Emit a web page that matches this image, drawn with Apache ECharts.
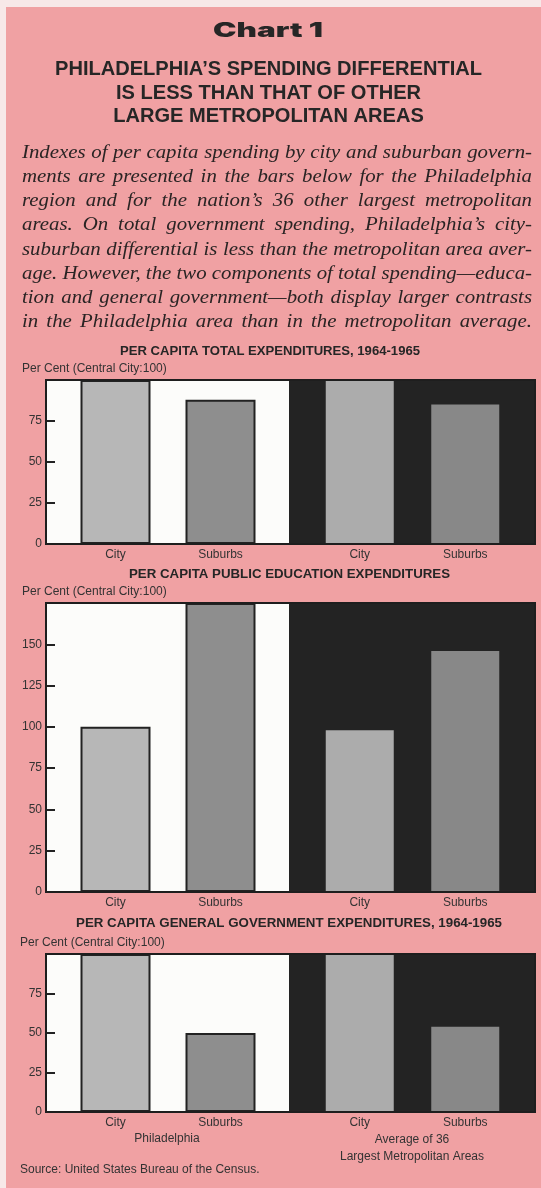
<!DOCTYPE html>
<html>
<head>
<meta charset="utf-8">
<script src="https://cdn.jsdelivr.net/npm/echarts@6/dist/echarts.min.js"></script>
<style>
  html, body { margin: 0; padding: 0; background: #f7e8e8; }
  #chart { width: 541px; height: 1188px; }
</style>
</head>
<body>
<div id="chart"></div>
<script>
// ---- data ----
const categories = ['City', 'Suburbs'];
const totalPhiladelphia = [100, 88];
const totalAverage = [100, 85];
const educationPhiladelphia = [100, 175];
const educationAverage = [98, 146];
const generalPhiladelphia = [100, 50];
const generalAverage = [100, 54];
const axisMax = [100, 175, 100];
const tickStep = 25;

const heading = 'Chart 1';
const titleLines = [
  'PHILADELPHIA\u2019S SPENDING DIFFERENTIAL',
  'IS LESS THAN THAT OF OTHER',
  'LARGE METROPOLITAN AREAS'
];
const paragraphLines = [
  'Indexes of per capita spending by city and suburban govern-',
  'ments are presented in the bars below for the Philadelphia',
  'region and for the nation\u2019s 36 other largest metropolitan',
  'areas. On total government spending, Philadelphia\u2019s city-',
  'suburban differential is less than the metropolitan area aver-',
  'age. However, the two components of total spending\u2014educa-',
  'tion and general government\u2014both display larger contrasts',
  'in the Philadelphia area than in the metropolitan average.'
];
const panelTitles = [
  'PER CAPITA TOTAL EXPENDITURES, 1964-1965',
  'PER CAPITA PUBLIC EDUCATION EXPENDITURES',
  'PER CAPITA GENERAL GOVERNMENT EXPENDITURES, 1964-1965'
];
const axisCaption = 'Per Cent (Central City:100)';
const groupLabelLeft = 'Philadelphia';
const groupLabelRight = ['Average of 36', 'Largest Metropolitan Areas'];
const sourceNote = 'Source: United States Bureau of the Census.';

const panelData = [
  [totalPhiladelphia, totalAverage],
  [educationPhiladelphia, educationAverage],
  [generalPhiladelphia, generalAverage]
];

// ---- layout ----
const PINK = '#f0a1a3';
const INK = '#262626';
const SANS = 'Liberation Sans';
const frameLeft = 46, frameSplit = 289, frameRight = 535;
const leftGrid = { left: 63, width: 210 };
const rightGrid = { left: 307, width: 211 };
const panels = [
  { top: 380, bottom: 544, titleY: 352, titleX: 120, titleW: 300, capY: 368.5, capX: 22 },
  { top: 603, bottom: 892, titleY: 575, titleX: 129, titleW: 321, capY: 592, capX: 22 },
  { top: 954, bottom: 1112, titleY: 924, titleX: 76, titleW: 426, capY: 943, capX: 20 }
];
const leftColors = ['#b7b7b7', '#8e8e8e'];
const rightColors = ['#acacac', '#888888'];

const measureCtx = document.createElement('canvas').getContext('2d');
function textWidth(str, font) {
  measureCtx.font = font;
  return measureCtx.measureText(str).width;
}

const graphics = [];

// card background
graphics.push({ type: 'rect', x: 6, y: 7, shape: { width: 540, height: 1181 }, style: { fill: PINK }, z: -20 });

// heading (heavy, extended)
const headFont = '900 20px "Inter"';
graphics.push({
  type: 'text', x: 268, y: 31, scaleX: 110 / textWidth(heading, headFont),
  style: { text: heading, fontSize: 20, fontWeight: 900, fontFamily: 'Inter', fill: INK, align: 'center', verticalAlign: 'middle' },
  z: 5
});

// title lines (condensed sans)
const titleFont = 'bold 19.5px "' + SANS + '"';
const titleScale = 427 / textWidth(titleLines[0], titleFont);
[70, 93.5, 116.5].forEach((y, i) => {
  graphics.push({
    type: 'text', x: 268.5, y: y, scaleX: titleScale,
    style: { text: titleLines[i], fontSize: 19.5, fontWeight: 'bold', fontFamily: SANS, fill: INK, align: 'center', verticalAlign: 'middle' },
    z: 5
  });
});

// justified italic paragraph
(function () {
  const size = 19;
  const font = 'italic ' + size + 'px "Liberation Serif"';
  const left = 22, right = 532, width = right - left;
  let widest = 0;
  paragraphLines.forEach(l => { widest = Math.max(widest, textWidth(l, font)); });
  const sx = width / widest;
  paragraphLines.forEach((line, i) => {
    const words = line.split(' ');
    const ws = words.map(w => textWidth(w, font) * sx);
    const total = ws.reduce((a, b) => a + b, 0);
    const gap = words.length > 1 ? (width - total) / (words.length - 1) : 0;
    let x = left;
    const yMid = 159 + i * 24.2 - 6.2;
    words.forEach((w, k) => {
      graphics.push({
        type: 'text', x: x, y: yMid, scaleX: sx,
        style: { text: w, fontSize: size, fontStyle: 'italic', fontFamily: 'Liberation Serif', fill: '#2a2424', align: 'left', verticalAlign: 'middle' },
        z: 5
      });
      x += ws[k] + gap;
    });
  });
})();

// panel furniture: backgrounds, frames, titles, captions
panels.forEach((p, i) => {
  const h = p.bottom - p.top;
  graphics.push({ type: 'rect', x: frameLeft, y: p.top, shape: { width: frameSplit - frameLeft, height: h }, style: { fill: '#fcfcfa' }, z: -10 });
  graphics.push({ type: 'rect', x: frameSplit, y: p.top, shape: { width: frameRight - frameSplit, height: h }, style: { fill: '#232323' }, z: -10 });
  graphics.push({ type: 'rect', x: frameLeft, y: p.top, shape: { width: frameRight - frameLeft, height: h }, style: { fill: 'none', stroke: '#1e1e1e', lineWidth: 2 }, z: 10 });
  const tFont = 'bold 12px "' + SANS + '"';
  graphics.push({
    type: 'text', x: p.titleX, y: p.titleY, scaleX: p.titleW / textWidth(panelTitles[i], tFont),
    style: { text: panelTitles[i], fontSize: 12, fontWeight: 'bold', fontFamily: SANS, fill: INK, align: 'left', verticalAlign: 'middle' },
    z: 5
  });
  graphics.push({
    type: 'text', x: p.capX, y: p.capY,
    style: { text: axisCaption, fontSize: 12, fontFamily: SANS, fill: '#333', align: 'left', verticalAlign: 'middle' },
    z: 5
  });
});

// group labels and source
graphics.push({ type: 'text', x: 167, y: 1139, style: { text: groupLabelLeft, fontSize: 12, fontFamily: SANS, fill: '#333', align: 'center', verticalAlign: 'middle' }, z: 5 });
graphics.push({ type: 'text', x: 412, y: 1140, style: { text: groupLabelRight[0], fontSize: 12, fontFamily: SANS, fill: '#333', align: 'center', verticalAlign: 'middle' }, z: 5 });
graphics.push({ type: 'text', x: 412, y: 1157, style: { text: groupLabelRight[1], fontSize: 12, fontFamily: SANS, fill: '#333', align: 'center', verticalAlign: 'middle' }, z: 5 });
graphics.push({ type: 'text', x: 20, y: 1170, style: { text: sourceNote, fontSize: 12, fontFamily: SANS, fill: '#333', align: 'left', verticalAlign: 'middle' }, z: 5 });

// ---- grids, axes, series ----
const grid = [], xAxis = [], yAxis = [], series = [];
panels.forEach((p, i) => {
  [leftGrid, rightGrid].forEach((g, side) => {
    const idx = grid.length;
    grid.push({ left: g.left, width: g.width, top: p.top, height: p.bottom - p.top, containLabel: false });
    xAxis.push({
      type: 'category', gridIndex: idx, data: categories,
      axisLine: { show: false }, axisTick: { show: false },
      axisLabel: { color: '#333', fontSize: 12, fontFamily: SANS, margin: 5 }
    });
    yAxis.push({
      type: 'value', gridIndex: idx, min: 0, max: axisMax[i], interval: tickStep,
      show: side === 0, offset: side === 0 ? g.left - frameLeft : 0,
      axisLine: { show: false },
      axisTick: { show: true, inside: true, length: 9, lineStyle: { color: '#222', width: 2 } },
      axisLabel: { color: '#333', fontSize: 12, fontFamily: SANS, margin: 4, showMaxLabel: false },
      splitLine: { show: false }
    });
    const colors = side === 0 ? leftColors : rightColors;
    series.push({
      type: 'bar', xAxisIndex: idx, yAxisIndex: idx,
      data: panelData[i][side], barWidth: side === 0 ? 70 : 68,
      itemStyle: {
        color: params => colors[params.dataIndex],
        borderColor: side === 0 ? '#222' : 'transparent',
        borderWidth: side === 0 ? 2 : 0
      },
      emphasis: { disabled: true },
      animation: false
    });
  });
});

const chart = echarts.init(document.getElementById('chart'), null, { renderer: 'canvas' });
chart.setOption({
  backgroundColor: '#f7e8e8',
  animation: false,
  grid, xAxis, yAxis, series,
  graphic: { elements: graphics }
});
</script>
</body>
</html>
